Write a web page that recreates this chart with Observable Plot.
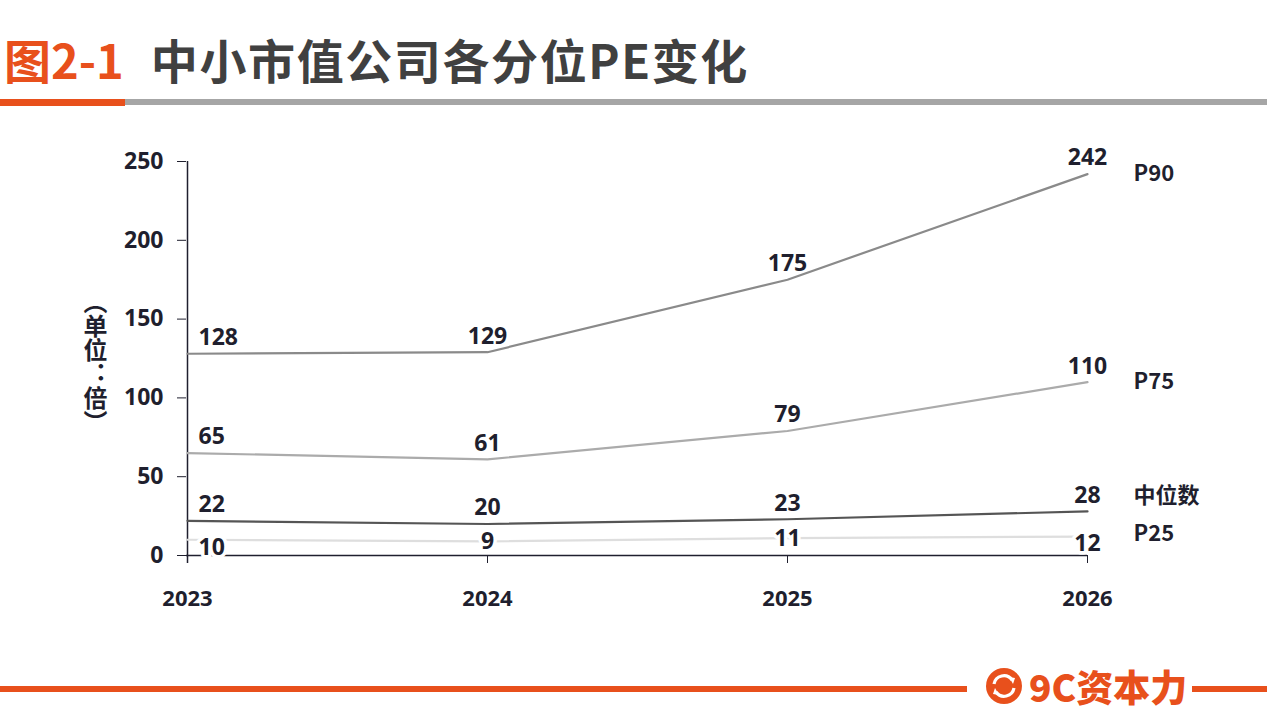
<!DOCTYPE html>
<html>
<head>
<meta charset="utf-8">
<script src="https://cdn.jsdelivr.net/npm/d3@7"></script>
<script src="https://cdn.jsdelivr.net/npm/@observablehq/plot@0.6"></script>
<style>
  html, body { margin:0; padding:0; background:#fff; }
  #page { position:relative; width:1267px; height:713px; overflow:hidden; font-family:"Noto Sans CJK SC","Open Sans",sans-serif; }
  #title { position:absolute; left:4px; top:24px; font-size:47px; font-weight:700; line-height:70px; white-space:nowrap; }
  #title .num { color:#E8501C; }
  #title .txt { color:#404040; margin-left:27px; letter-spacing:1.6px; }
  .bar { position:absolute; }
  #chart { position:absolute; left:0; top:120px; }
  #ylabel { position:absolute; left:81px; top:290px; writing-mode:vertical-rl; font-size:24px; font-weight:700; color:#1f1f2e; line-height:28px; }
  #logo { position:absolute; left:985px; top:664px; display:flex; align-items:center; }
  #logo span { color:#E8501C; font-size:37px; font-weight:900; margin-left:6px; line-height:44px; font-family:"Noto Sans CJK SC",sans-serif; }
</style>
</head>
<body>
<div id="page">
  <div id="title"><span class="num">图2-1</span><span class="txt">中小市值公司各分位PE变化</span></div>
  <div class="bar" style="left:0;top:99px;width:125px;height:7px;background:#E8501C"></div>
  <div class="bar" style="left:125px;top:99px;width:1142px;height:6px;background:#A6A6A6"></div>
  <div id="chart"></div>
  <div id="ylabel">（单位：倍）</div>
  <div class="bar" style="left:0;top:686px;width:967px;height:6px;background:#E8501C"></div>
  <div class="bar" style="left:1192px;top:686px;width:75px;height:6px;background:#E8501C"></div>
  <div id="logo">
    <svg width="38" height="38" viewBox="0 0 38 38">
      <circle cx="19" cy="19" r="18" fill="#E8501C"/>
      <path d="M9 17 A10 10 0 0 1 27 13" fill="none" stroke="#fff" stroke-width="3.2"/>
      <path d="M29 21 A10 10 0 0 1 11 25" fill="none" stroke="#fff" stroke-width="3.2"/>
      <path d="M24 10 L30 11 L28 17 Z" fill="#fff"/>
      <path d="M14 28 L8 27 L10 21 Z" fill="#fff"/>
    </svg>
    <span>9C资本力</span>
  </div>
</div>
<script>
const years = [2023, 2024, 2025, 2026];
const seriesNames = ["P90", "P75", "中位数", "P25"];
const p90 = [128, 129, 175, 242];
const p75 = [65, 61, 79, 110];
const median = [22, 20, 23, 28];
const p25 = [10, 9, 11, 12];
const yTicks = [0, 50, 100, 150, 200, 250];
const seriesColors = ["#8A8A8A", "#ABABAB", "#555555", "#DEDEDE"];

const allValues = [p90, p75, median, p25];
const rows = [];
seriesNames.forEach((s, i) => {
  years.forEach((y, j) => rows.push({series: s, year: y, value: allValues[i][j]}));
});

const labelFont = {fontSize: 23, fontWeight: 700, fill: "#1f1f2e", fontFamily: "'Open Sans','Noto Sans CJK SC',sans-serif"};
const upper = rows.filter(d => d.series !== "P25");
const lower = rows.filter(d => d.series === "P25");
const first = years[0], last = years[years.length - 1];

const marks = [
  Plot.ruleY([0], {stroke: "#1f1f2e", strokeWidth: 1.5}),
  Plot.ruleX([first], {y1: 250, y2: 0, stroke: "#1f1f2e", strokeWidth: 1.5, insetBottom: -8}),
  Plot.axisY({ticks: yTicks, tickSize: 9, tickPadding: 14, label: null, stroke: "#1f1f2e", ...labelFont}),
  Plot.axisX({ticks: years, tickSize: 8, tickPadding: 27, label: null, tickFormat: d => String(d), stroke: "#1f1f2e", ...labelFont, fontSize: 22}),
  Plot.line(rows, {x: "year", y: "value", z: "series", stroke: d => seriesColors[seriesNames.indexOf(d.series)], strokeWidth: 2.2}),
  Plot.text(upper.filter(d => d.year === first), {x: "year", y: "value", text: d => String(d.value), dx: 11, dy: -16, textAnchor: "start", ...labelFont}),
  Plot.text(upper.filter(d => d.year !== first), {x: "year", y: "value", text: d => String(d.value), dy: -16, textAnchor: "middle", ...labelFont}),
  Plot.text(lower.filter(d => d.year === first), {x: "year", y: "value", text: d => String(d.value), dx: 11, dy: 8, textAnchor: "start", stroke: "#fff", strokeWidth: 7, ...labelFont}),
  Plot.text(lower.filter(d => d.year === last), {x: "year", y: "value", text: d => String(d.value), dy: 7, textAnchor: "middle", stroke: "#fff", strokeWidth: 7, ...labelFont}),
  Plot.text(lower.filter(d => d.year !== first && d.year !== last), {x: "year", y: "value", text: d => String(d.value), dy: 0, textAnchor: "middle", stroke: "#fff", strokeWidth: 7, ...labelFont})
];
// series names at right
const nameDy = {"P90": 0, "P75": 0, "中位数": -15, "P25": -3};
seriesNames.forEach(s => {
  marks.push(Plot.text(rows.filter(d => d.series === s && d.year === last), {x: "year", y: "value", text: "series", dx: 46, dy: nameDy[s], textAnchor: "start", ...labelFont, fontFamily: "'Noto Sans CJK SC','Open Sans',sans-serif", fontSize: 22}));
});

const chart = Plot.plot({
  width: 1267,
  height: 520,
  marginLeft: 186,
  marginRight: 180,
  marginTop: 41,
  marginBottom: 85,
  x: {type: "point", domain: years, padding: 0},
  y: {domain: [0, 250]},
  style: {background: "#fff", overflow: "visible"},
  marks
});
document.getElementById("chart").appendChild(chart);
</script>
</body>
</html>
